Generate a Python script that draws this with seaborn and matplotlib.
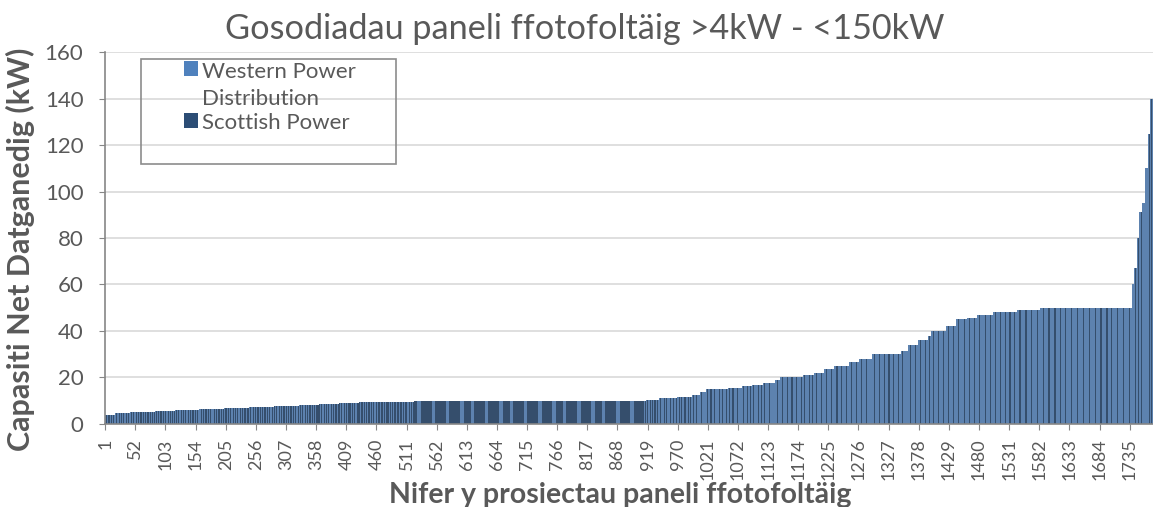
import matplotlib
matplotlib.use('Agg')

import pandas as pd
import matplotlib.pyplot as plt
import seaborn as sns
from matplotlib.patches import Patch, Rectangle
from matplotlib.legend_handler import HandlerPatch

# capacity steps (kW), with number of projects per operator at each step
capacity_kw = [4.0, 4.5, 5.0, 5.5, 5.9, 6.3, 6.8, 7.3, 7.8, 8.0, 8.5, 8.9, 9.3, 9.6,
               10.0, 10.3, 11.0, 11.6, 12.5, 13.8, 15.0, 15.6, 16.2, 16.7, 17.7, 19.0,
               20.0, 21.0, 22.0, 23.6, 25.0, 26.6, 28.0, 30.0, 31.2, 34.0, 36.0, 38.0,
               40.0, 42.0, 45.0, 45.7, 47.0, 48.0, 49.0, 50.0,
               60.0, 67.0, 80.0, 91.0, 95.0, 110.0, 125.0, 140.0]
n_wpd = [9, 13, 21, 17, 22, 23, 21, 22, 20, 17, 16, 15, 16, 26,
         103, 12, 19, 15, 9, 7, 25, 17, 12, 13, 15, 6,
         29, 14, 13, 13, 19, 13, 17, 37, 9, 13, 13, 4,
         19, 13, 15, 13, 21, 32, 31, 124,
         2, 3, 3, 3, 4, 3, 2, 3]
n_sp = [8, 12, 21, 17, 20, 19, 21, 20, 22, 17, 18, 19, 18, 33,
        290, 10, 12, 9, 5, 3, 12, 7, 5, 6, 5, 2,
        10, 5, 4, 4, 6, 4, 5, 12, 3, 4, 4, 1,
        6, 4, 4, 4, 6, 9, 8, 32,
        1, 2, 1, 2, 1, 1, 2, 2]

operators = ["Western Power\nDistribution", "Scottish Power"]
colors = {"Western Power\nDistribution": "#4f81bd", "Scottish Power": "#2c4d75"}

tick_labels = list(range(1, 1736, 51))


def chunks(total, size):
    return [min(size, total - k) for k in range(0, total, size)]


# one row per project; the two operators are mixed in small runs inside each step
rows = []
for cap, nw, ns in zip(capacity_kw, n_wpd, n_sp):
    size = 6 if cap == 10.0 else 2
    wc, sc = chunks(nw, size), chunks(ns, size)
    items = [((i + 0.5) / len(wc), operators[0], c) for i, c in enumerate(wc)]
    items += [((j + 0.5) / len(sc), operators[1], c) for j, c in enumerate(sc)]
    items.sort(key=lambda t: t[0])
    for _, op, c in items:
        rows += [(cap, op)] * c

df = pd.DataFrame(rows, columns=["capacity", "operator"])
df["project"] = range(1, len(df) + 1)
n = len(df)

grey = "#595959"
plt.rcParams['font.family'] = ['Lato', 'DejaVu Sans']

fig = plt.figure(figsize=(11.53, 5.07), dpi=100)
ax = fig.add_axes([0.091, 0.164, 0.909, 0.733])

sns.barplot(data=df, x="project", y="capacity", hue="operator", palette=colors,
            native_scale=True, width=1, dodge=False, errorbar=None,
            linewidth=0, legend=False, ax=ax)
for p in ax.patches:
    p.set_antialiased(False)

ax.set_xlim(0.5, n + 0.5)
ax.set_ylim(0, 160)
ax.set_yticks(range(0, 161, 20))
ax.yaxis.grid(True, color="#d9d9d9", linewidth=1.2)
ax.set_axisbelow(True)
ax.set_xticks(tick_labels)
ax.set_xticklabels([str(t) for t in tick_labels], rotation=90)
ax.tick_params(axis="both", colors="#868686", labelcolor=grey, length=4.5)
ax.tick_params(axis="x", labelsize=13, pad=6)
ax.tick_params(axis="y", labelsize=16, pad=11)
for side in ["top", "right"]:
    ax.spines[side].set_visible(False)
for side in ["left", "bottom"]:
    ax.spines[side].set_color("#868686")
    ax.spines[side].set_linewidth(1.2)
ax.set_xlabel("")
ax.set_ylabel("")

fig.text(0.507, 0.923, "Gosodiadau paneli ffotofoltäig >4kW - <150kW",
         ha="center", va="baseline", fontsize=24.7, color=grey)
fig.text(0.538, 0.008, "Nifer y prosiectau paneli ffotofoltäig",
         ha="center", va="baseline", fontsize=20.5, fontweight="bold", color=grey)
fig.text(0.018, 0.509, "Capasiti Net Datganedig (kW)", rotation=90,
         ha="center", va="center", fontsize=22, fontweight="bold", color=grey)


def top_square(legend, orig_handle, xdescent, ydescent, width, height, fontsize):
    # square next to the first line of a two-line label
    return Rectangle((-xdescent, -ydescent + 0.75 * fontsize), width, height)


handles = [Patch(facecolor=colors[o], edgecolor="none") for o in operators]
leg = ax.legend(handles, operators, loc="upper left", bbox_to_anchor=(0.075, 0.975),
                frameon=False, fontsize=16, handlelength=0.65, handleheight=0.65,
                handletextpad=0.2, borderpad=0, borderaxespad=0, labelspacing=0.18,
                labelcolor=grey,
                handler_map={handles[0]: HandlerPatch(patch_func=top_square)})
leg.get_texts()[0].set_linespacing(1.45)
ax.add_patch(Rectangle((0.034, 0.699), 0.244, 0.282, transform=ax.transAxes,
                       fill=False, edgecolor="#8c8c8c", linewidth=1.2, clip_on=False))

fig.savefig("out.png", dpi=100)
